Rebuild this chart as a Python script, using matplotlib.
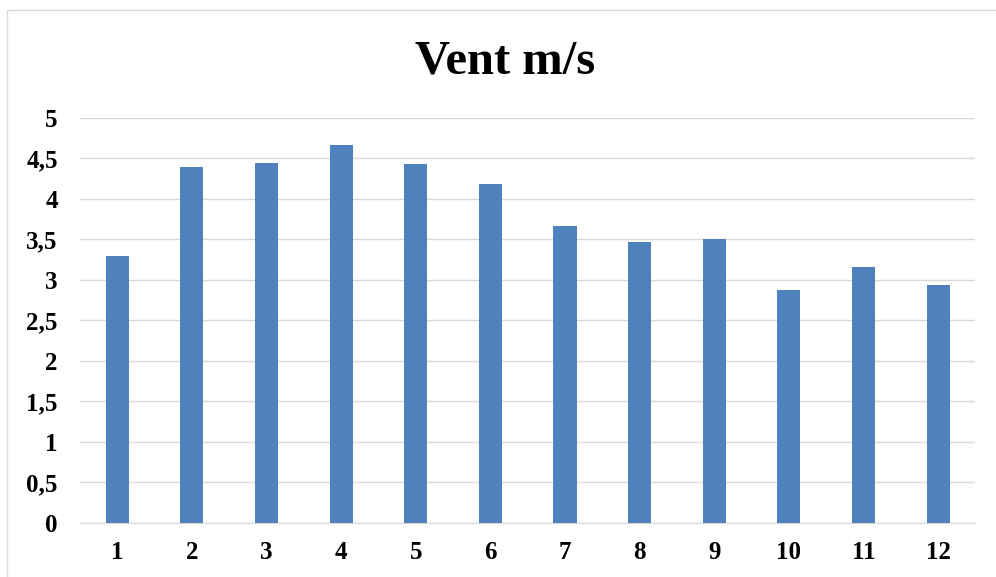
import matplotlib.pyplot as plt
from matplotlib.patches import Rectangle

# données
mois = ["1", "2", "3", "4", "5", "6", "7", "8", "9", "10", "11", "12"]
vent = [3.30, 4.40, 4.44, 4.67, 4.43, 4.19, 3.66, 3.47, 3.51, 2.87, 3.16, 2.94]
yticks = [0, 0.5, 1, 1.5, 2, 2.5, 3, 3.5, 4, 4.5, 5]
ytick_labels = ["0", "0,5", "1", "1,5", "2", "2,5", "3", "3,5", "4", "4,5", "5"]

plt.rcParams['font.family'] = ['Liberation Serif', 'DejaVu Serif']

fig = plt.figure(figsize=(9.96, 5.77), dpi=100)
ax = fig.add_axes([0.0803, 0.0936, 0.899, 0.702])

x = range(len(mois))
ax.bar(x, vent, width=0.31, color='#4F81BD', zorder=3)

ax.set_xlim(-0.5, len(mois) - 0.5)
ax.set_ylim(0, 5)
ax.set_xticks(list(x))
ax.set_xticklabels(mois, fontsize=18, fontweight='bold')
ax.set_yticks(yticks)
ax.set_yticklabels(ytick_labels, fontsize=18, fontweight='bold')
ax.tick_params(axis='both', length=0)
ax.tick_params(axis='y', pad=16)
ax.tick_params(axis='x', pad=13)

ax.grid(axis='y', color='#D9D9D9', linewidth=1, zorder=0)
for s in ['top', 'right', 'left']:
    ax.spines[s].set_visible(False)
ax.spines['bottom'].set_color('#D9D9D9')

fig.text(0.507, 0.893, "Vent m/s", ha='center', va='center',
         fontsize=35, fontweight='bold')

# cadre du graphique
fig.patches.append(Rectangle((0.007, -0.01), 1.0, 0.993, transform=fig.transFigure,
                             fill=False, edgecolor='#D9D9D9', linewidth=1))

fig.savefig("out.png", dpi=100)
